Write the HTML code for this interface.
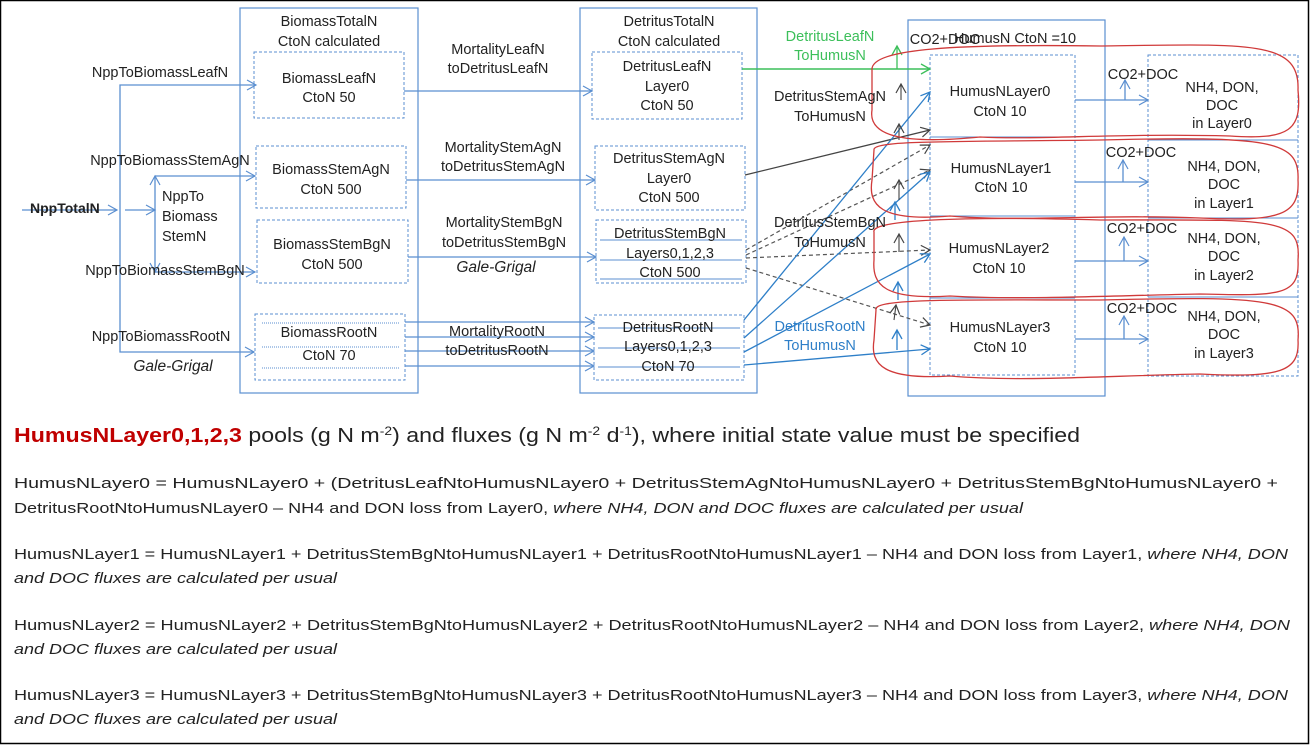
<!DOCTYPE html>
<html><head><meta charset="utf-8"><style>
html,body{margin:0;padding:0;background:#fff;}
svg{display:block;font-family:"Liberation Sans",sans-serif;}
</style></head><body>
<svg width="1310" height="745" viewBox="0 0 1310 745" xmlns="http://www.w3.org/2000/svg">
<defs>
<marker id="ab" markerWidth="12" markerHeight="12" refX="10" refY="6" orient="auto" markerUnits="userSpaceOnUse"><path d="M1,1 L10,6 L1,11" fill="none" stroke="#5b8fd0" stroke-width="1.2"/></marker>
<marker id="abb" markerWidth="12" markerHeight="12" refX="10" refY="6" orient="auto" markerUnits="userSpaceOnUse"><path d="M1,1 L10,6 L1,11" fill="none" stroke="#2e7fc8" stroke-width="1.3"/></marker>
<marker id="ag" markerWidth="12" markerHeight="12" refX="10" refY="6" orient="auto" markerUnits="userSpaceOnUse"><path d="M1,1 L10,6 L1,11" fill="none" stroke="#3cbf5a" stroke-width="1.3"/></marker>
<marker id="ak" markerWidth="12" markerHeight="12" refX="10" refY="6" orient="auto" markerUnits="userSpaceOnUse"><path d="M1,1 L10,6 L1,11" fill="none" stroke="#444" stroke-width="1.2"/></marker>
</defs>
<rect x="0.5" y="0.5" width="1308" height="743" fill="#fff" stroke="#000" stroke-width="1.5"/>

<g fill="none" stroke="#5b8fd0" stroke-width="1.2">
<rect x="240" y="8" width="178" height="385"/>
<rect x="580" y="8" width="177" height="385"/>
<rect x="908" y="20" width="197" height="376"/>
</g>
<g fill="none" stroke="#5b8fd0" stroke-width="1" stroke-dasharray="3,2">
<rect x="254" y="52" width="150" height="66"/>
<rect x="256" y="146" width="150" height="62"/>
<rect x="257" y="220" width="151" height="63"/>
<rect x="255" y="314" width="150" height="66"/>
<rect x="592" y="52" width="150" height="67"/>
<rect x="595" y="146" width="150" height="64"/>
<rect x="596" y="220" width="150" height="63"/>
<rect x="594" y="315" width="150" height="65"/>
<rect x="930" y="55" width="145" height="320"/>
<rect x="1148" y="55" width="150" height="321"/>
</g>
<g stroke="#5b8fd0" stroke-width="1">
<line x1="930" y1="137" x2="1075" y2="137"/><line x1="930" y1="216" x2="1075" y2="216"/><line x1="930" y1="298" x2="1075" y2="298"/>
<line x1="1148" y1="140" x2="1298" y2="140"/><line x1="1148" y1="218" x2="1298" y2="218"/><line x1="1148" y1="297" x2="1298" y2="297"/>
<line x1="262" y1="323" x2="400" y2="323" stroke-dasharray="1,1"/><line x1="262" y1="347" x2="400" y2="347" stroke-dasharray="1,1"/><line x1="262" y1="368" x2="400" y2="368" stroke-dasharray="1,1"/>
<line x1="600" y1="240" x2="742" y2="240"/><line x1="600" y1="260" x2="742" y2="260"/><line x1="600" y1="279" x2="742" y2="279"/>
<line x1="598" y1="328" x2="740" y2="328"/><line x1="598" y1="348" x2="740" y2="348"/><line x1="598" y1="367" x2="740" y2="367"/>
</g>

<g fill="none" stroke="#5b8fd0" stroke-width="1.3">
<line x1="22" y1="210" x2="117" y2="210" marker-end="url(#ab)"/>
<polyline points="254,85 120,85 120,352 254,352"/>
<line x1="254" y1="85" x2="256" y2="85" marker-end="url(#ab)"/>
<line x1="252" y1="352" x2="254" y2="352" marker-end="url(#ab)"/>
<line x1="125" y1="210" x2="155" y2="210" marker-end="url(#ab)"/>
<line x1="155" y1="210" x2="155" y2="176" marker-end="url(#ab)"/>
<line x1="155" y1="210" x2="155" y2="272" marker-end="url(#ab)"/>
<line x1="155" y1="176" x2="255" y2="176" marker-end="url(#ab)"/>
<line x1="155" y1="272" x2="255" y2="272" marker-end="url(#ab)"/>
<line x1="404" y1="91" x2="592" y2="91" marker-end="url(#ab)"/>
<line x1="406" y1="180" x2="595" y2="180" marker-end="url(#ab)"/>
<line x1="408" y1="257" x2="596" y2="257" marker-end="url(#ab)"/>
<line x1="405" y1="322" x2="594" y2="322" marker-end="url(#ab)"/>
<line x1="405" y1="337" x2="594" y2="337" marker-end="url(#ab)"/>
<line x1="405" y1="351" x2="594" y2="351" marker-end="url(#ab)"/>
<line x1="405" y1="366" x2="594" y2="366" marker-end="url(#ab)"/>
<line x1="1075" y1="100" x2="1148" y2="100" marker-end="url(#ab)"/>
<line x1="1075" y1="182" x2="1148" y2="182" marker-end="url(#ab)"/>
<line x1="1075" y1="261" x2="1148" y2="261" marker-end="url(#ab)"/>
<line x1="1075" y1="339" x2="1148" y2="339" marker-end="url(#ab)"/>
<line x1="1125" y1="100" x2="1125" y2="80" marker-end="url(#ab)"/>
<line x1="1123" y1="182" x2="1123" y2="160" marker-end="url(#ab)"/>
<line x1="1124" y1="261" x2="1124" y2="237" marker-end="url(#ab)"/>
<line x1="1124" y1="339" x2="1124" y2="316" marker-end="url(#ab)"/>
</g>
<line x1="742" y1="69" x2="930" y2="69" stroke="#3cbf5a" stroke-width="1.4" marker-end="url(#ag)"/>
<line x1="897" y1="69" x2="897" y2="46" stroke="#3cbf5a" stroke-width="1.3" marker-end="url(#ag)"/>
<line x1="745" y1="175" x2="930" y2="130" stroke="#444" stroke-width="1.3" marker-end="url(#ak)"/>
<g stroke="#555" stroke-width="1.2" stroke-dasharray="4,3" fill="none">
<line x1="746" y1="250" x2="930" y2="145" marker-end="url(#ak)"/>
<line x1="746" y1="255" x2="930" y2="170" marker-end="url(#ak)"/>
<line x1="746" y1="258" x2="930" y2="250" marker-end="url(#ak)"/>
<line x1="746" y1="268" x2="930" y2="325" marker-end="url(#ak)"/>
</g>
<g stroke="#2e7fc8" stroke-width="1.3" fill="none">
<line x1="744" y1="320" x2="930" y2="92" marker-end="url(#abb)"/>
<line x1="744" y1="338" x2="930" y2="172" marker-end="url(#abb)"/>
<line x1="744" y1="352" x2="930" y2="254" marker-end="url(#abb)"/>
<line x1="744" y1="365" x2="930" y2="349" marker-end="url(#abb)"/>
<line x1="895" y1="220" x2="895" y2="202" marker-end="url(#abb)"/>
<line x1="898" y1="300" x2="898" y2="282" marker-end="url(#abb)"/>
<line x1="897" y1="350" x2="897" y2="330" marker-end="url(#abb)"/>
</g>
<g stroke="#444" stroke-width="1.1" fill="none">
<line x1="899" y1="140" x2="899" y2="124" marker-end="url(#ak)"/>
<line x1="901" y1="100" x2="901" y2="84" marker-end="url(#ak)"/>
<line x1="899" y1="252" x2="899" y2="234" marker-end="url(#ak)"/>
<line x1="899" y1="200" x2="899" y2="180" marker-end="url(#ak)"/>
<line x1="894" y1="320" x2="896" y2="305" marker-end="url(#ak)"/>
</g>
<g fill="none" stroke="#d03a3a" stroke-width="1.3">
<path d="M872,70 C870,48 960,44 1100,46 C1250,44 1300,40 1298,90 C1302,130 1290,140 1230,136 C1120,133 1040,140 980,137 C900,145 868,135 872,110 Z"/>
<path d="M874,150 C872,140 950,142 1100,140 C1270,136 1300,140 1298,180 C1300,215 1280,222 1200,218 C1100,214 1020,222 950,216 C880,222 868,205 872,180 Z"/>
<path d="M874,232 C870,220 960,216 1100,220 C1270,220 1302,216 1298,260 C1300,296 1280,296 1200,294 C1100,296 1020,300 950,296 C884,300 872,285 874,260 Z"/>
<path d="M876,310 C872,298 960,300 1100,300 C1270,296 1302,298 1298,340 C1300,372 1280,378 1200,374 C1100,376 1020,382 950,376 C884,380 870,365 874,340 Z"/>
</g>

<g font-size="14.5" fill="#222" text-anchor="middle">
<text x="329" y="26">BiomassTotalN</text><text x="329" y="46">CtoN  calculated</text>
<text x="329" y="83">BiomassLeafN</text><text x="329" y="102">CtoN  50</text>
<text x="331" y="174">BiomassStemAgN</text><text x="331" y="194">CtoN  500</text>
<text x="332" y="249">BiomassStemBgN</text><text x="332" y="269">CtoN  500</text>
<text x="329" y="337">BiomassRootN</text><text x="329" y="360">CtoN  70</text>
<text x="669" y="26">DetritusTotalN</text><text x="669" y="46">CtoN  calculated</text>
<text x="667" y="71">DetritusLeafN</text><text x="667" y="91">Layer0</text><text x="667" y="110">CtoN  50</text>
<text x="669" y="163">DetritusStemAgN</text><text x="669" y="183">Layer0</text><text x="669" y="202">CtoN  500</text>
<text x="670" y="238">DetritusStemBgN</text><text x="670" y="258">Layers0,1,2,3</text><text x="670" y="277">CtoN  500</text>
<text x="668" y="332">DetritusRootN</text><text x="668" y="351">Layers0,1,2,3</text><text x="668" y="371">CtoN  70</text>
<text x="498" y="54">MortalityLeafN</text><text x="498" y="73">toDetritusLeafN</text>
<text x="503" y="152">MortalityStemAgN</text><text x="503" y="171">toDetritusStemAgN</text>
<text x="504" y="227">MortalityStemBgN</text><text x="504" y="247">toDetritusStemBgN</text>
<text x="496" y="272" font-style="italic" font-size="15.5">Gale-Grigal</text>
<text x="497" y="336">MortalityRootN</text><text x="497" y="355">toDetritusRootN</text>
<text x="160" y="77">NppToBiomassLeafN</text>
<text x="170" y="165">NppToBiomassStemAgN</text>
<text x="165" y="275">NppToBiomassStemBgN</text>
<text x="161" y="341">NppToBiomassRootN</text>
<text x="173" y="371" font-style="italic" font-size="15.5">Gale-Grigal</text>
<text x="1000" y="96">HumusNLayer0</text><text x="1000" y="116">CtoN  10</text>
<text x="1001" y="173">HumusNLayer1</text><text x="1001" y="192">CtoN 10</text>
<text x="999" y="253">HumusNLayer2</text><text x="999" y="273">CtoN 10</text>
<text x="1000" y="332">HumusNLayer3</text><text x="1000" y="352">CtoN 10</text>
<text x="1222" y="92">NH4, DON,</text><text x="1222" y="110">DOC</text><text x="1222" y="128">in Layer0</text>
<text x="1224" y="171">NH4, DON,</text><text x="1224" y="189">DOC</text><text x="1224" y="208">in Layer1</text>
<text x="1224" y="243">NH4, DON,</text><text x="1224" y="261">DOC</text><text x="1224" y="280">in Layer2</text>
<text x="1224" y="321">NH4, DON,</text><text x="1224" y="339">DOC</text><text x="1224" y="358">in Layer3</text>
<text x="1143" y="79">CO2+DOC</text><text x="1141" y="157">CO2+DOC</text><text x="1142" y="233">CO2+DOC</text><text x="1142" y="313">CO2+DOC</text>
<text x="1015" y="43">HumusN CtoN  =10</text>
<text x="945" y="44">CO2+DOC</text>
<text x="830" y="101">DetritusStemAgN</text><text x="830" y="121">ToHumusN</text>
<text x="830" y="227">DetritusStemBgN</text><text x="830" y="247">ToHumusN</text>
<text x="820" y="331" fill="#2e7fc8">DetritusRootN</text><text x="820" y="350" fill="#2e7fc8">ToHumusN</text>
<text x="830" y="41" fill="#3cbf5a">DetritusLeafN</text><text x="830" y="60" fill="#3cbf5a">ToHumusN</text>
</g>
<g font-size="14.5" fill="#222">
<text x="162" y="201">NppTo</text><text x="162" y="221">Biomass</text><text x="162" y="241">StemN</text>
<text x="30" y="213" font-weight="bold" font-size="14">NppTotalN</text>
</g>

<text x="14" y="442" font-size="20" fill="#222" textLength="1066" lengthAdjust="spacingAndGlyphs"><tspan fill="#c00000" font-weight="bold">HumusNLayer0,1,2,3</tspan> pools (g N m<tspan font-size="12" dy="-7">-2</tspan><tspan dy="7">) and fluxes (g N m</tspan><tspan font-size="12" dy="-7">-2</tspan><tspan dy="7"> d</tspan><tspan font-size="12" dy="-7">-1</tspan><tspan dy="7">), where initial  state value must be specified</tspan></text>
<g font-size="15" fill="#222">
<text x="14" y="488" textLength="1264" lengthAdjust="spacingAndGlyphs">HumusNLayer0 = HumusNLayer0 + (DetritusLeafNtoHumusNLayer0 + DetritusStemAgNtoHumusNLayer0 + DetritusStemBgNtoHumusNLayer0 +</text>
<text x="14" y="513" textLength="1009" lengthAdjust="spacingAndGlyphs">DetritusRootNtoHumusNLayer0 – NH4 and DON loss from Layer0, <tspan font-style="italic">where NH4, DON and DOC fluxes are calculated  per usual</tspan></text>
<text x="14" y="559" textLength="1274" lengthAdjust="spacingAndGlyphs">HumusNLayer1 = HumusNLayer1 + DetritusStemBgNtoHumusNLayer1 + DetritusRootNtoHumusNLayer1 – NH4 and DON loss from Layer1, <tspan font-style="italic">where NH4, DON</tspan></text>
<text x="14" y="583" textLength="323" lengthAdjust="spacingAndGlyphs" font-style="italic">and DOC fluxes are calculated  per usual</text>
<text x="14" y="630" textLength="1276" lengthAdjust="spacingAndGlyphs">HumusNLayer2 = HumusNLayer2 + DetritusStemBgNtoHumusNLayer2 + DetritusRootNtoHumusNLayer2  – NH4 and DON loss from Layer2, <tspan font-style="italic">where NH4, DON</tspan></text>
<text x="14" y="654" textLength="323" lengthAdjust="spacingAndGlyphs" font-style="italic">and DOC fluxes are calculated  per usual</text>
<text x="14" y="700" textLength="1274" lengthAdjust="spacingAndGlyphs">HumusNLayer3 = HumusNLayer3 + DetritusStemBgNtoHumusNLayer3 + DetritusRootNtoHumusNLayer3 – NH4 and DON loss from Layer3, <tspan font-style="italic">where NH4, DON</tspan></text>
<text x="14" y="724" textLength="323" lengthAdjust="spacingAndGlyphs" font-style="italic">and DOC fluxes are calculated  per usual</text>
</g>
</svg>
</body></html>
